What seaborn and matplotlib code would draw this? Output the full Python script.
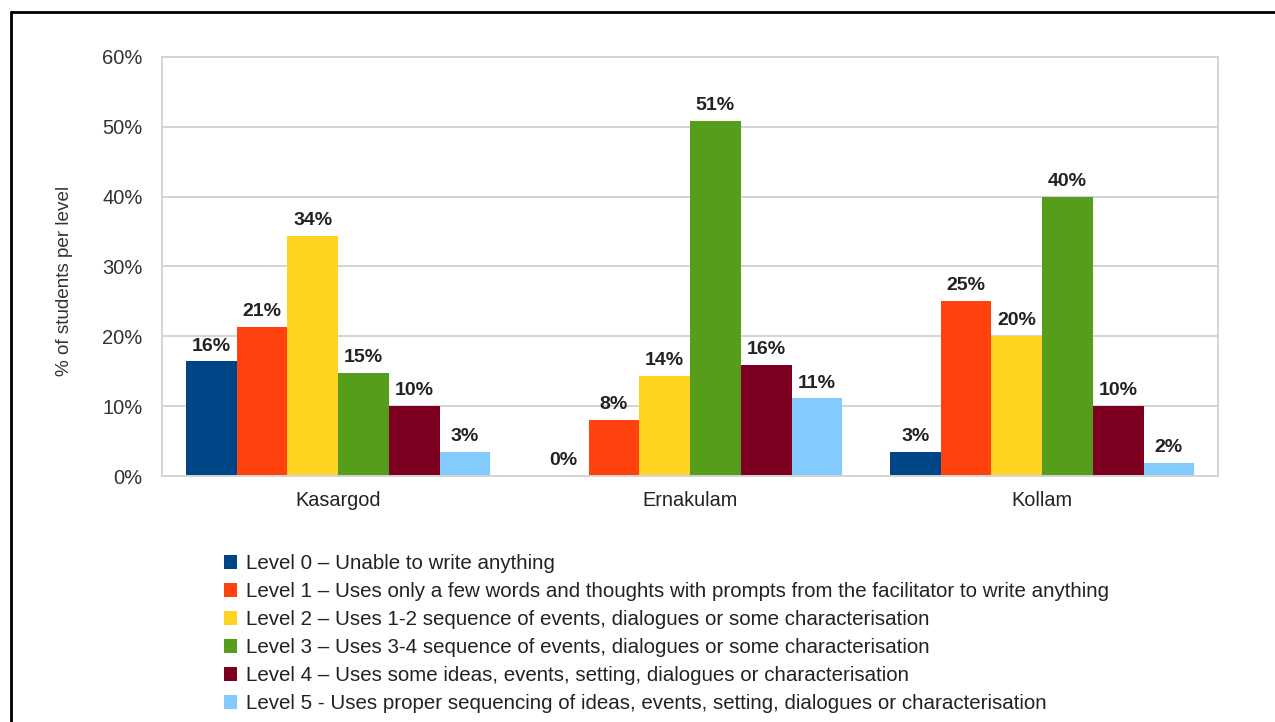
import pandas as pd
import matplotlib
matplotlib.use('Agg')
import matplotlib.pyplot as plt
import seaborn as sns
from matplotlib.lines import Line2D
from matplotlib.ticker import FixedLocator, PercentFormatter

districts = ['Kasargod', 'Ernakulam', 'Kollam']
levels = ['Level 0 – Unable to write anything',
          'Level 1 – Uses only a few words and thoughts with prompts from the facilitator to write anything',
          'Level 2 – Uses 1-2 sequence of events, dialogues or some characterisation',
          'Level 3 – Uses 3-4 sequence of events, dialogues or some characterisation',
          'Level 4 – Uses some ideas, events, setting, dialogues or characterisation',
          'Level 5 - Uses proper sequencing of ideas, events, setting, dialogues or characterisation']
kasargod = [16.4, 21.4, 34.4, 14.8, 10.0, 3.4]
ernakulam = [0.0, 8.0, 14.3, 50.8, 15.9, 11.1]
kollam = [3.4, 25.0, 20.0, 40.0, 10.0, 1.8]
level_colors = ['#004586', '#ff420e', '#ffd320', '#579d1c', '#7e0021', '#83caff']

rows = []
for district, vals in zip(districts, [kasargod, ernakulam, kollam]):
    for level, v in zip(levels, vals):
        rows.append({'district': district, 'level': level, 'pct': v})
df = pd.DataFrame(rows)

sns.set_style('white')
plt.rcParams['font.family'] = ['Liberation Sans', 'DejaVu Sans']

fig = plt.figure(figsize=(12.75, 7.22), dpi=100)
ax = fig.add_axes([0.1271, 0.3407, 0.8282, 0.5804])

sns.barplot(data=df, x='district', y='pct', hue='level', palette=level_colors,
            width=0.865, saturation=1, linewidth=0, ax=ax, legend=True)

for cont in ax.containers:
    ax.bar_label(cont, labels=[f'{b.get_height():.0f}%' for b in cont],
                 padding=5, fontsize=14, fontweight='bold', color='#222222')

grid_c = '#d4d4d4'
ax.set_ylim(0, 60)
ax.set_xlim(-0.5, 2.5)
ax.set_yticks(range(0, 61, 10))
ax.yaxis.set_major_formatter(PercentFormatter(decimals=0))
ax.grid(axis='y', color=grid_c, linewidth=1.4)
ax.set_axisbelow(True)
for sp in ax.spines.values():
    sp.set_visible(True)
    sp.set_color(grid_c)
    sp.set_linewidth(1.4)
ax.tick_params(axis='y', length=12, width=1.4, color=grid_c, pad=2,
               labelsize=14.5, labelcolor='#333333')
ax.tick_params(axis='x', which='major', length=0, pad=11,
               labelsize=14.3, labelcolor='#222222')
ax.xaxis.set_minor_locator(FixedLocator([-0.5, 0.5, 1.5, 2.5]))
ax.tick_params(axis='x', which='minor', length=8, width=1.4, color=grid_c)
ax.set_xlabel('')
ax.set_ylabel('% of students per level', fontsize=13.6, color='#333333')
ax.yaxis.set_label_coords(-0.0843, 0.465)

handles, labels = ax.get_legend_handles_labels()
ax.legend(handles, labels, loc='upper left', bbox_to_anchor=(224 / 1275, 1 - 554 / 722),
          bbox_transform=fig.transFigure, frameon=False, fontsize=14.8,
          handlelength=0.65, handleheight=0.65, handletextpad=0.4,
          labelspacing=0.44, borderpad=0, borderaxespad=0, labelcolor='#222222')

fig.add_artist(Line2D([10.5 / 1275, 10.5 / 1275], [0, 1 - 12 / 722], transform=fig.transFigure,
                      color='black', linewidth=2))
fig.add_artist(Line2D([10.5 / 1275, 1], [1 - 12 / 722, 1 - 12 / 722], transform=fig.transFigure,
                      color='black', linewidth=2))

fig.savefig('out.png', dpi=100)
